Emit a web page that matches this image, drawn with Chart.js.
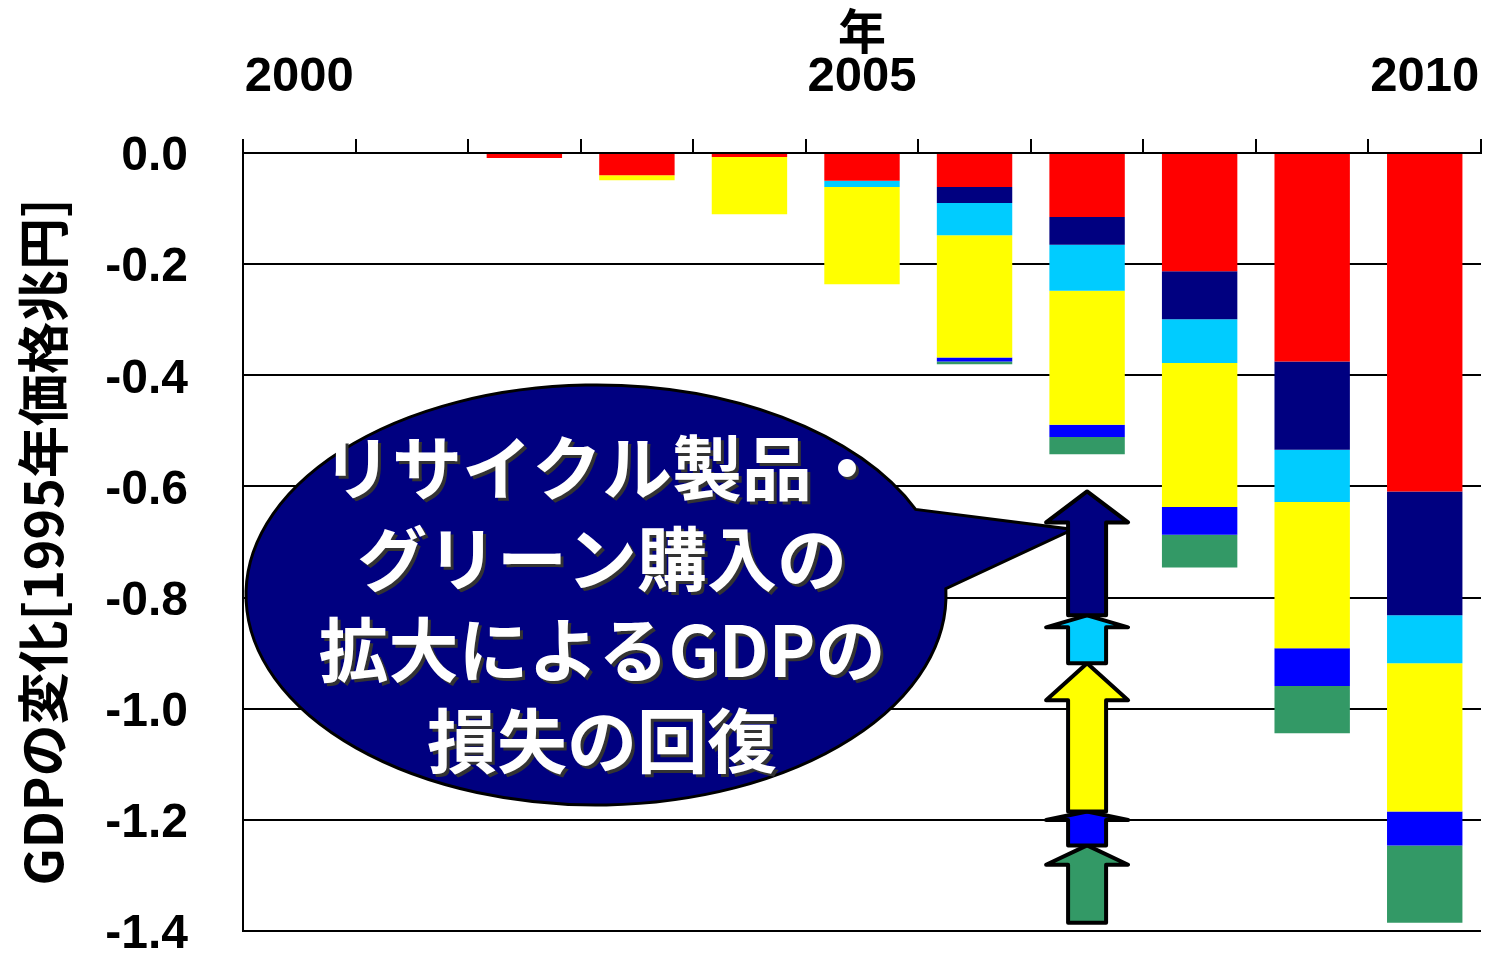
<!DOCTYPE html>
<html>
<head>
<meta charset="utf-8">
<script src="https://cdn.jsdelivr.net/npm/chart.js@4"></script>
<style>
  html, body { margin: 0; padding: 0; background: #fff; }
  #wrap { width: 1487px; height: 955px; }
</style>
</head>
<body>
<div id="wrap"><canvas id="gdp"></canvas></div>
<script>
const years  = ['2000', '2001', '2002', '2003', '2004', '2005', '2006', '2007', '2008', '2009', '2010'];
const shown  = ['2000', '2005', '2010'];

// GDP change by component [trillion yen, 1995 prices]
const red    = [0, 0, -0.009, -0.040, -0.007, -0.050, -0.061, -0.115, -0.213, -0.375, -0.609];
const navy   = [0, 0, 0, 0, 0, 0, -0.029, -0.050, -0.086, -0.159, -0.223];
const cyan   = [0, 0, 0, 0, 0, -0.011, -0.058, -0.083, -0.079, -0.094, -0.086];
const yellow = [0, 0, 0, -0.009, -0.103, -0.175, -0.220, -0.241, -0.259, -0.263, -0.267];
const blue   = [0, 0, 0, 0, 0, 0, -0.007, -0.022, -0.050, -0.068, -0.061];
const green  = [0, 0, 0, 0, 0, 0, -0.005, -0.031, -0.059, -0.085, -0.139];

const cRed = '#FF0000', cNavy = '#000080', cCyan = '#00CCFF';
const cYellow = '#FFFF00', cBlue = '#0000FF', cGreen = '#339966';

const calloutLines = ['リサイクル製品・', 'グリーン購入の', '拡大によるGDPの', '損失の回復'];
const arrowColumn = '2007';

const jp = '"Noto Sans CJK JP", "Noto Sans", sans-serif';
const en = '"Liberation Sans", Arial, sans-serif';

function drawArrow(ctx, x, yBottom, yTop, fill) {
  const len = yBottom - yTop;
  const hh = len * 0.25;
  const sw = 19, hw = 41;
  ctx.beginPath();
  ctx.moveTo(x - sw, yBottom);
  ctx.lineTo(x - sw, yTop + hh);
  ctx.lineTo(x - hw, yTop + hh);
  ctx.lineTo(x, yTop);
  ctx.lineTo(x + hw, yTop + hh);
  ctx.lineTo(x + sw, yTop + hh);
  ctx.lineTo(x + sw, yBottom);
  ctx.closePath();
  ctx.fillStyle = fill;
  ctx.fill();
  ctx.lineWidth = 4;
  ctx.lineJoin = 'round';
  ctx.strokeStyle = '#000';
  ctx.stroke();
}

const overlay = {
  id: 'overlay',
  afterDatasetsDraw(chart) {
    const ctx = chart.ctx;
    const xs = chart.scales.x, ys = chart.scales.y;
    const last = years.length - 1;
    const ax = xs.getPixelForValue(years.indexOf(arrowColumn));

    // segments of the last year, below the red part
    const parts = [[navy, cNavy], [cyan, cCyan], [yellow, cYellow], [blue, cBlue], [green, cGreen]];
    let acc = red[last];
    const segs = parts.map(([arr, col]) => {
      const top = acc;
      acc += arr[last];
      return { top: ys.getPixelForValue(top), bottom: ys.getPixelForValue(acc), col };
    });

    // callout bubble
    const cx = 596, cy = 595, rx = 350, ry = 210;
    const t1 = -0.42, t2 = -0.03;
    const tipX = ax - 14, tipY = segs[0].top + 38;
    ctx.save();
    ctx.beginPath();
    ctx.ellipse(cx, cy, rx, ry, 0, t2, t1);
    ctx.lineTo(tipX, tipY);
    ctx.closePath();
    ctx.fillStyle = cNavy;
    ctx.fill();
    ctx.lineWidth = 3;
    ctx.strokeStyle = '#000';
    ctx.stroke();

    ctx.font = 'bold 70px ' + jp;
    ctx.textAlign = 'center';
    ctx.textBaseline = 'middle';
    ctx.fillStyle = '#fff';
    ctx.shadowColor = '#333';
    ctx.shadowOffsetX = 3;
    ctx.shadowOffsetY = 3;
    calloutLines.forEach((s, i) => {
      ctx.fillText(s, 602, 468 + i * 91);
    });
    ctx.restore();

    // arrows, bottom one first
    ctx.save();
    for (let i = segs.length - 1; i >= 0; i--) {
      drawArrow(ctx, ax, segs[i].bottom, segs[i].top, segs[i].col);
    }
    ctx.restore();
  }
};

const ds = (data, color) => ({
  data,
  backgroundColor: color,
  borderWidth: 0,
  barPercentage: 0.67,
  categoryPercentage: 1
});

new Chart(document.getElementById('gdp'), {
  type: 'bar',
  data: {
    labels: years,
    datasets: [
      ds(red, cRed), ds(navy, cNavy), ds(cyan, cCyan),
      ds(yellow, cYellow), ds(blue, cBlue), ds(green, cGreen)
    ]
  },
  options: {
    responsive: true,
    maintainAspectRatio: false,
    animation: false,
    layout: { padding: { left: 0, top: 0, right: 6, bottom: 24 } },
    plugins: {
      legend: { display: false },
      tooltip: { enabled: false }
    },
    scales: {
      x: {
        position: 'top',
        stacked: true,
        afterFit: s => { s.height = 153; },
        grid: {
          offset: true,
          drawOnChartArea: false,
          drawTicks: true,
          tickLength: 14,
          color: '#000',
          lineWidth: 2
        },
        border: { display: true, color: '#000', width: 2 },
        ticks: {
          autoSkip: false,
          maxRotation: 0,
          padding: 0,
          color: '#000',
          font: { family: en, size: 49, weight: 'bold', lineHeight: 2.52 },
          callback: (v, i) => shown.includes(years[i]) ? years[i] : ''
        },
        title: {
          display: true,
          text: '年',
          color: '#000',
          padding: { top: 2, bottom: 0 },
          font: { family: jp, size: 48, weight: 'bold' }
        }
      },
      y: {
        stacked: true,
        min: -1.4,
        max: 0,
        afterFit: s => { s.width = 243; },
        grid: {
          color: '#000',
          lineWidth: 2,
          drawTicks: true,
          tickLength: 55,
          tickColor: 'rgba(0,0,0,0)'
        },
        border: { display: true, color: '#000', width: 2 },
        ticks: {
          stepSize: 0.2,
          padding: 0,
          labelOffset: 4,
          color: '#000',
          font: { family: en, size: 48, weight: 'bold', lineHeight: 1 },
          callback: v => v.toFixed(1)
        },
        title: {
          display: true,
          text: 'GDPの変化[1995年価格兆円]',
          color: '#000',
          padding: { top: 12, bottom: 0 },
          font: { family: jp, size: 52, weight: 'bold' }
        }
      }
    }
  },
  plugins: [overlay]
});
</script>
</body>
</html>
